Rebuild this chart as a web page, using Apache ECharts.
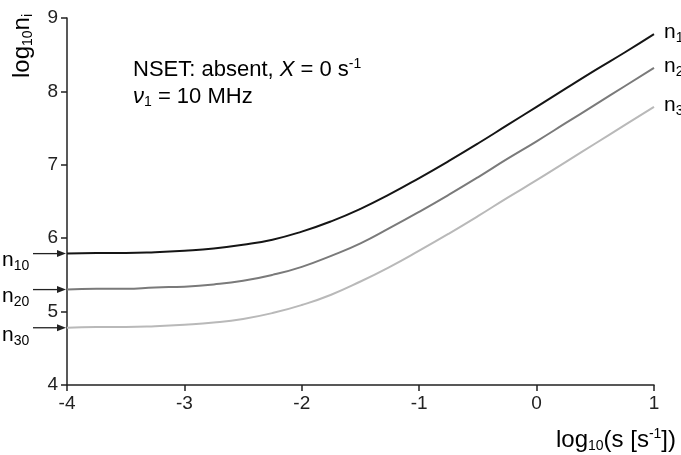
<!DOCTYPE html>
<html style="height: 100%">
<head>
    <meta charset="utf-8">
</head>
<body style="height: 100%; margin: 0; background: #fff">
<div id="container" style="width: 681px; height: 455px"></div>

<script type="text/javascript" src="https://fastly.jsdelivr.net/npm/echarts@6/dist/echarts.min.js"></script>
<script type="text/javascript">
    // log10(s) sample points
    var xs = [-4, -3.75, -3.5, -3.25, -3, -2.75, -2.5, -2.25, -2, -1.75, -1.5,
              -1.25, -1, -0.75, -0.5, -0.25, 0, 0.25, 0.5, 0.75, 1];
    // log10(n_i)
    var n1 = [5.79, 5.80, 5.80, 5.81, 5.83, 5.86, 5.91, 5.98, 6.09, 6.23, 6.40,
              6.60, 6.82, 7.05, 7.29, 7.54, 7.79, 8.04, 8.29, 8.53, 8.78];
    var n2 = [5.30, 5.31, 5.31, 5.33, 5.34, 5.37, 5.42, 5.50, 5.61, 5.76, 5.93,
              6.14, 6.36, 6.59, 6.83, 7.08, 7.32, 7.57, 7.82, 8.07, 8.32];
    var n3 = [4.78, 4.79, 4.79, 4.80, 4.82, 4.85, 4.90, 4.98, 5.09, 5.23, 5.41,
              5.61, 5.83, 6.06, 6.30, 6.55, 6.79, 7.04, 7.29, 7.54, 7.79];
    var startLevels = [5.79, 5.30, 4.78];
    var startNames = ['10', '20', '30'];
    var endNames = ['1', '2', '3'];
    var lineColors = ['#151515', '#7a7a7a', '#b9b9b9'];

    var FONT = '"Liberation Sans", Arial, sans-serif';
    var TXT = '#222';

    function pairs(ys) {
        return xs.map(function (x, i) { return [x, ys[i]]; });
    }

    var dom = document.getElementById('container');
    var myChart = echarts.init(dom, null, { renderer: 'canvas' });

    var rich = {
        b: { fontSize: 22, fontFamily: FONT, color: TXT },
        i: { fontSize: 22, fontFamily: FONT, color: TXT, fontStyle: 'italic' },
        sub: { fontSize: 14, fontFamily: FONT, color: TXT, padding: [11, 0, 0, 0] },
        sup: { fontSize: 14, fontFamily: FONT, color: TXT, padding: [0, 0, 11, 0] },
        B: { fontSize: 24, fontFamily: FONT, color: TXT },
        s: { fontSize: 14, fontFamily: FONT, color: TXT, padding: [13, 0, 0, 0] },
        u: { fontSize: 14, fontFamily: FONT, color: TXT, padding: [0, 0, 12, 0] },
        N: { fontSize: 21, fontFamily: FONT, color: TXT },
        ns: { fontSize: 14, fontFamily: FONT, color: TXT, padding: [12, 0, 0, 0] }
    };

    var option = {
        animation: false,
        grid: { left: 67, right: 27, top: 18, bottom: 70 },
        xAxis: {
            type: 'value', min: -4, max: 1, interval: 1,
            axisLine: { onZero: false, lineStyle: { color: TXT, width: 1.5 } },
            axisTick: { length: 6, lineStyle: { color: TXT, width: 1.5 } },
            axisLabel: { fontSize: 19, fontFamily: FONT, color: TXT, margin: 9 },
            splitLine: { show: false }
        },
        yAxis: {
            type: 'value', min: 4, max: 9, interval: 1,
            axisLine: { show: true, onZero: false, lineStyle: { color: TXT, width: 1.5 } },
            axisTick: { show: true, length: 6, lineStyle: { color: TXT, width: 1.5 } },
            axisLabel: { fontSize: 19, fontFamily: FONT, color: TXT, margin: 9 },
            splitLine: { show: false }
        },
        series: [n1, n2, n3].map(function (ys, k) {
            return {
                type: 'line', data: pairs(ys), smooth: true, showSymbol: false,
                lineStyle: { color: lineColors[k], width: 2 }
            };
        })
    };
    myChart.setOption(option);

    // annotations placed through the axis scales
    var g = [];
    startLevels.forEach(function (v, k) {
        var py = myChart.convertToPixel({ yAxisIndex: 0 }, v);
        g.push({ type: 'line', shape: { x1: 33, y1: py, x2: 58, y2: py },
                 style: { stroke: TXT, lineWidth: 1.3 } });
        g.push({ type: 'polygon', shape: { points: [[57, py - 3.5], [66, py], [57, py + 3.5]] },
                 style: { fill: TXT } });
        g.push({ type: 'text', x: 2, y: py + 7, style: {
            text: '{N|n}{ns|' + startNames[k] + '}', rich: rich, verticalAlign: 'middle' } });
    });
    [n1, n2, n3].forEach(function (ys, k) {
        var p = myChart.convertToPixel({ gridIndex: 0 }, [1, ys[ys.length - 1]]);
        g.push({ type: 'text', x: 664, y: p[1] - 2, style: {
            text: '{N|n}{ns|' + endNames[k] + '}', rich: rich, verticalAlign: 'middle' } });
    });
    g.push({ type: 'text', x: 133, y: 70, style: {
        text: '{b|NSET: absent, }{i|X}{b| = 0 s}{sup|-1}', rich: rich, verticalAlign: 'middle' } });
    g.push({ type: 'text', x: 133, y: 97, style: {
        text: '{i|\u03BD}{sub|1}{b| = 10 MHz}', rich: rich, verticalAlign: 'middle' } });
    g.push({ type: 'text', x: 22, y: 46, rotation: Math.PI / 2, style: {
        text: '{B|log}{s|10}{B|n}{s|i}', rich: rich, align: 'center', verticalAlign: 'middle' } });
    g.push({ type: 'text', x: 676, y: 440, style: {
        text: '{B|log}{s|10}{B|(s [s}{u|-1}{B|])}', rich: rich, align: 'right', verticalAlign: 'middle' } });
    myChart.setOption({ graphic: g });

    window.addEventListener('resize', myChart.resize);
</script>
</body>
</html>
